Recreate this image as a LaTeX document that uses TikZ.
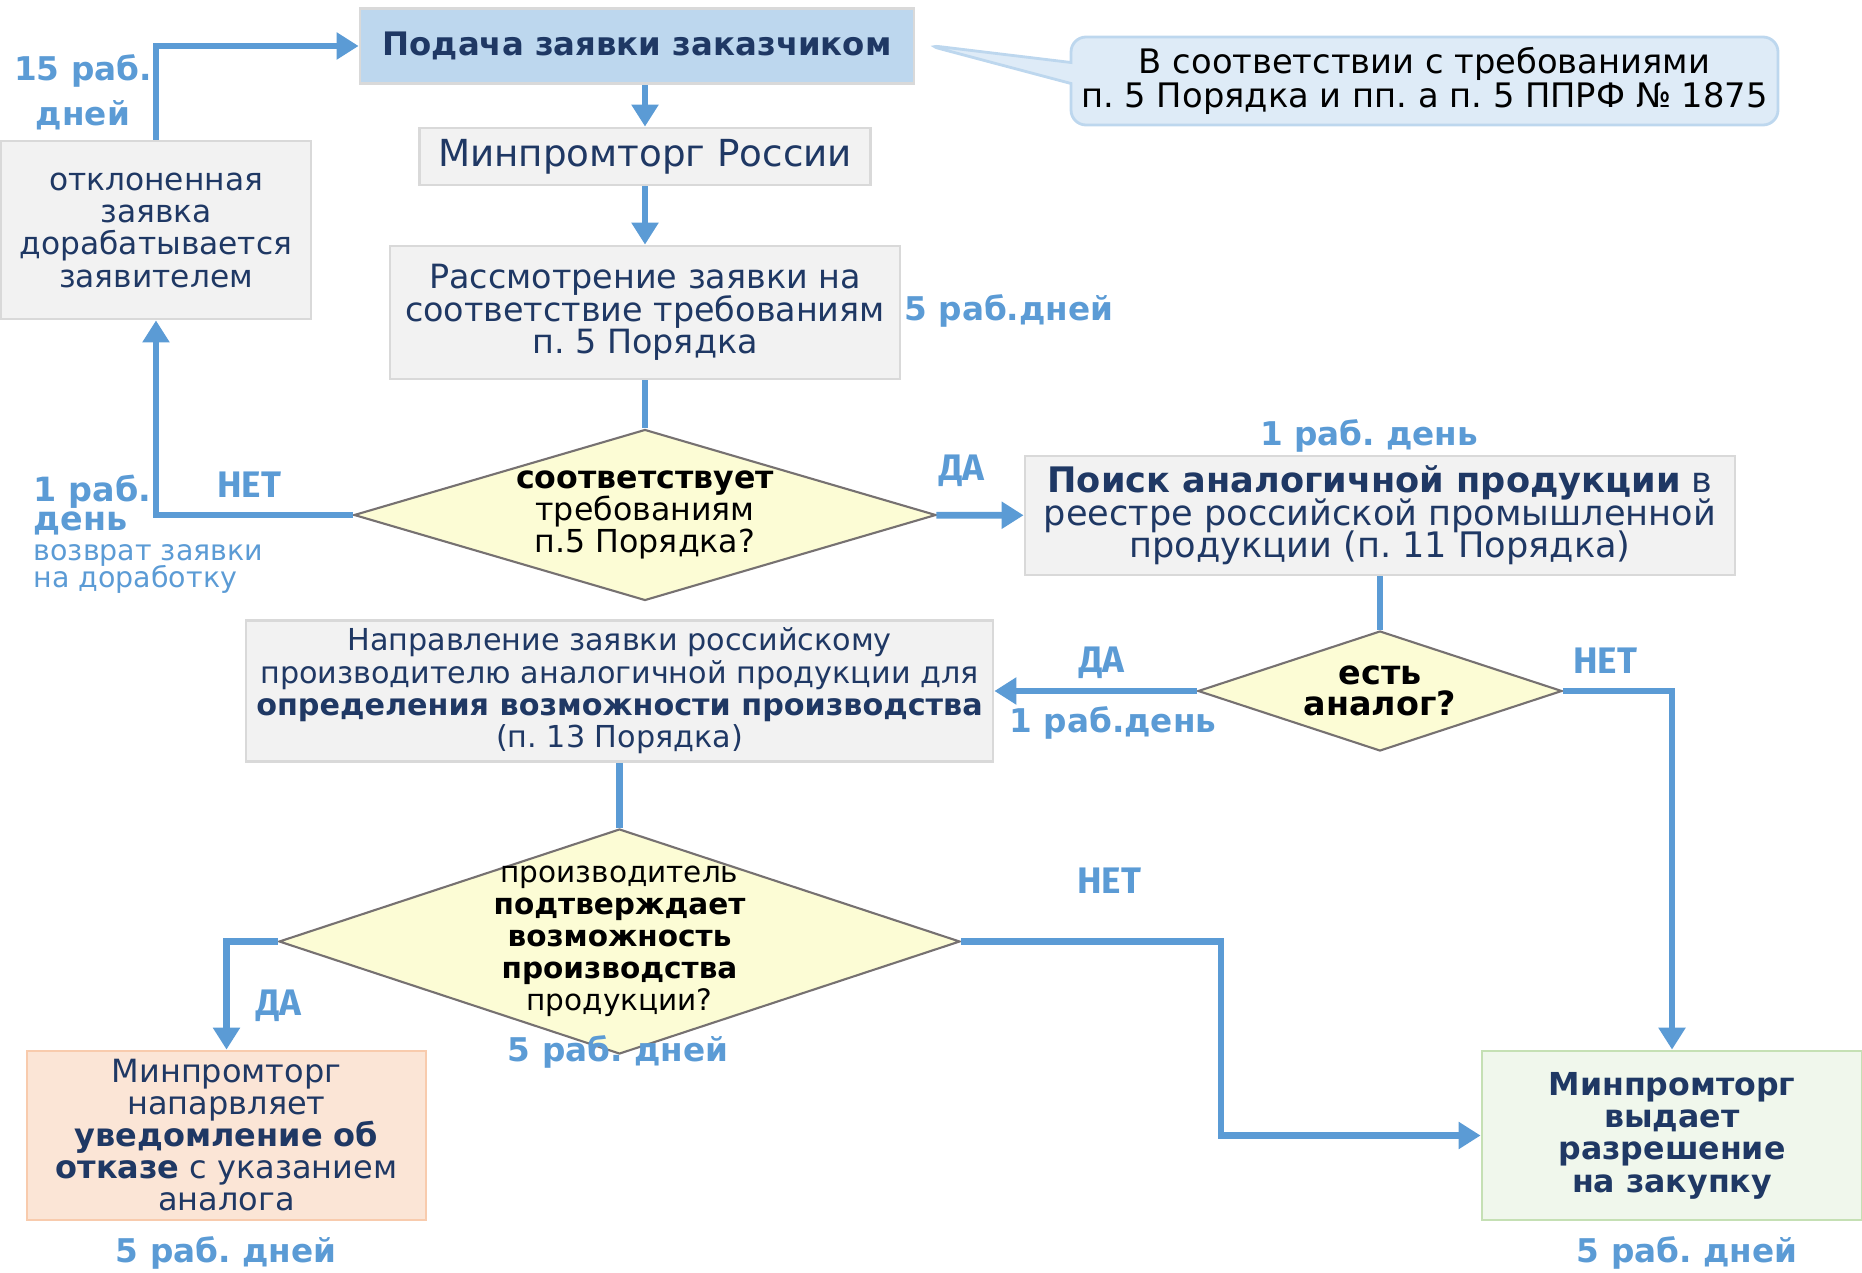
\documentclass[tikz,border=0pt]{standalone}
\usepackage{fontspec}
\setmainfont{DejaVu Sans}
\newfontfamily\firafont{Fira Sans}
\usetikzlibrary{shapes.geometric,shapes.callouts,arrows.meta}
\definecolor{navytext}{HTML}{1F3864}
\definecolor{flowblue}{HTML}{5B9BD5}
\definecolor{boxgray}{HTML}{F2F2F2}
\definecolor{edgegray}{HTML}{D9D9D9}
\definecolor{headblue}{HTML}{BDD7EE}
\definecolor{notefill}{HTML}{DEEBF7}
\definecolor{noteedge}{HTML}{BDD7EE}
\definecolor{askyellow}{HTML}{FCFCD5}
\definecolor{askedge}{HTML}{767171}
\definecolor{refusefill}{HTML}{FBE5D6}
\definecolor{refuseedge}{HTML}{F8CBAD}
\definecolor{permitfill}{HTML}{F0F7EC}
\definecolor{permitedge}{HTML}{C5E0B4}
\frenchspacing
\lineskiplimit=-20pt
\lineskip=0pt

\begin{document}
\begin{tikzpicture}
[boxdecorate/.style={shape=rectangle,draw=edgegray,line width=0.8pt,fill=boxgray,
   text=navytext,align=center,inner sep=0pt},%
  askdecorate/.style={shape=diamond,draw=askedge,line width=0.6pt,fill=askyellow,inner sep=0pt},%
  asktext/.style={align=center,text=black,inner sep=0pt},%
  arrowdecorate/.style={draw=flowblue,line width=1.9pt,-{Triangle[width=0.26cm,length=0.22cm]}},%
  linedecorate/.style={draw=flowblue,line width=1.9pt},%
  daysdecorate/.style={text=flowblue,align=center,inner sep=0pt,
   font=\bfseries\fontsize{9.3}{12.8}\selectfont},%
  answerdecorate/.style={text=flowblue,inner sep=0pt,
   font=\firafont\bfseries\fontsize{10.5}{11}\selectfont}]
\useasboundingbox (0,0) rectangle (18.62,12.72);
%% boxes
\node (submit) at (6.37,12.26) [boxdecorate,fill=headblue,minimum width=5.54cm,
  minimum height=0.75cm,font=\bfseries\fontsize{9.2}{10}\selectfont] {Подача заявки заказчиком};
\foreach \nodename/\x/\y/\w/\h/\fs/\ls/\boxtext in {
  minprom/6.45/11.155/4.51/0.57/10.6/12/{Минпромторг России},
  review/6.45/9.595/5.10/1.33/9.5/9.3/{Рассмотрение заявки на\\соответствие требованиям\\п. 5 Порядка},
  rework/1.56/10.42/3.10/1.78/8.9/9.2/{отклоненная\\заявка\\дорабатывается\\заявителем},
  search/13.80/7.565/7.10/1.19/10/9.2/{\textbf{Поиск аналогичной продукции} в\\реестре российской промышленной\\продукции (п. 11 Порядка)},
  send/6.195/5.81/7.47/1.41/8.6/9.2/{Направление заявки российскому\\производителю аналогичной продукции для\\\textbf{определения возможности производства}\\(п. 13 Порядка)}} {
  \node (\nodename) at (\x,\y) [boxdecorate,minimum width=\w cm,minimum height=\h cm,
    font=\fontsize{\fs}{\ls}\selectfont] {\boxtext};
}
\node (refuse) at (2.265,1.365) [boxdecorate,fill=refusefill,draw=refuseedge,
  minimum width=3.99cm,minimum height=1.69cm,font=\fontsize{9.1}{9.1}\selectfont]
  {Минпромторг\\напарвляет\\\textbf{уведомление об}\\\textbf{отказе} с указанием\\аналога};
\node (permit) at (16.72,1.365) [boxdecorate,fill=permitfill,draw=permitedge,
  minimum width=3.80cm,minimum height=1.69cm,font=\bfseries\fontsize{9}{9.2}\selectfont]
  {Минпромторг\\выдает\\разрешение\\на закупку};
%% callout
\coordinate (notetip) at (9.26,12.27);
\node (note) at (14.245,11.91) [rectangle callout,callout absolute pointer={(notetip)},
  callout pointer width=0.21cm,rounded corners=0.15cm,fill=notefill,draw=noteedge,
  line width=0.8pt,minimum width=7.07cm,minimum height=0.88cm,inner sep=0pt,align=center,
  font=\fontsize{9.6}{9.8}\selectfont]
  {В соответствии с требованиями\\п. 5 Порядка и пп. а п. 5 ППРФ № 1875};
%% decisions
\foreach \nodename/\x/\y/\w/\h in {check/6.45/7.57/5.82/1.71,
  analog/13.80/5.81/3.64/1.20, confirm/6.195/3.305/6.81/2.25} {
  \node (\nodename) at (\x,\y) [askdecorate,minimum width=\w cm,minimum height=\h cm] {};
}
\node (checktext) at (check) [asktext,font=\fontsize{9}{9}\selectfont]
  {\textbf{соответствует}\\требованиям\\п.5 Порядка?};
\node (analogtext) at (analog) [asktext,font=\bfseries\fontsize{9.5}{8.8}\selectfont]
  {есть\\аналог?};
\node (confirmtext) at (confirm) [asktext,font=\fontsize{8.4}{9.1}\selectfont]
  {производитель\\\textbf{подтверждает}\\\textbf{возможность}\\\textbf{производства}\\продукции?};
%% time labels
\foreach \nodename/\x/\y/\labeltext in {
  backdays/0.83/11.80/{15 раб.\\дней}, reviewdays/10.09/9.61/{5 раб.дней},
  searchdays/13.69/8.36/{1 раб. день}, analogdays/11.13/5.49/{1 раб.день},
  confirmdays/6.18/2.20/{5 раб. дней}, refusedays/2.26/0.19/{5 раб. дней},
  permitdays/16.87/0.19/{5 раб. дней}} {
  \node (\nodename) at (\x,\y) [daysdecorate] {\labeltext};
}
\node (retdays) at (0.33,7.67) [daysdecorate,anchor=west,align=left,
  font=\bfseries\fontsize{9.5}{8.4}\selectfont] {1 раб.\\день};
\node (retnote) at (0.33,7.03) [daysdecorate,anchor=west,align=left,
  font=\fontsize{8.1}{7.8}\selectfont] {возврат заявки\\на доработку};
%% answers
\foreach \nodename/\x/\y/\answer in {checkno/2.49/7.87/НЕТ, checkyes/9.62/8.01/ДА,
  analogyes/11.02/6.09/ДА, analogno/16.05/6.11/НЕТ, confirmno/11.09/3.91/НЕТ,
  confirmyes/2.79/2.66/ДА} {
  \node (\nodename) at (\x,\y) [answerdecorate] {\answer};
}
%% edges or lines
\draw[arrowdecorate] (submit.south -| minprom.north) -- (minprom.north);
\path
\foreach \startnode/\endnode/\kind in {minprom/review/arrowdecorate,
  review/check/linedecorate, check/search/arrowdecorate, search/analog/linedecorate,
  analog/send/arrowdecorate, send/confirm/linedecorate} {
  (\startnode) edge[\kind] (\endnode)
};
\draw[arrowdecorate] (check.west) -| (rework.south);
\draw[arrowdecorate] (rework.north) |- (submit.west);
\draw[arrowdecorate] (analog.east) -| (permit.north);
\draw[arrowdecorate] (confirm.west) -| (refuse.north);
\coordinate (nobend) at (12.21,3.305);
\draw[arrowdecorate] (confirm.east) -- (nobend) |- (permit.west);
\end{tikzpicture}
\end{document}
